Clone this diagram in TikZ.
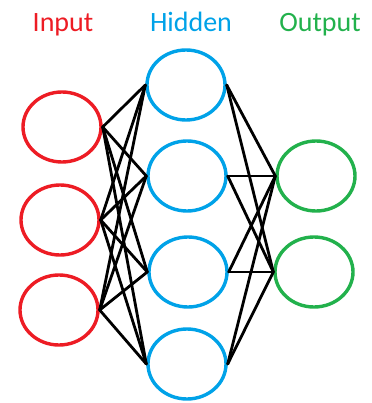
\documentclass[tikz,border=0pt]{standalone}
\usepackage{fontspec}
\setmainfont{Carlito}
\usetikzlibrary{shapes.geometric}
\definecolor{inred}{RGB}{237,28,36}
\definecolor{hidblue}{RGB}{0,162,232}
\definecolor{outgreen}{RGB}{34,177,76}
\begin{document}
\begin{tikzpicture}[x=1pt,y=-1pt,
  neuron/.style={ellipse,draw,line width=3.4pt,minimum width=78pt,minimum height=70pt,inner sep=0pt},
  title/.style={font=\fontsize{28}{30}\selectfont,anchor=base},
  link/.style={line width=2.8pt,black}]
\useasboundingbox (0,0) rectangle (371,403);
% layer titles
\node[title,text=inred] (tin) at (63,32) {Input};
\node[title,text=hidblue] (thid) at (191,32) {Hidden};
\node[title,text=outgreen] (tout) at (320,32) {Output};
% input layer
\node[neuron,draw=inred] (i1) at (62,127) {};
\node[neuron,draw=inred] (i2) at (60,220) {};
\node[neuron,draw=inred] (i3) at (59,310) {};
% hidden layer
\node[neuron,draw=hidblue] (h1) at (186,85) {};
\node[neuron,draw=hidblue] (h2) at (187,176) {};
\node[neuron,draw=hidblue] (h3) at (188,272) {};
\node[neuron,draw=hidblue] (h4) at (187,364) {};
% output layer
\node[neuron,draw=outgreen] (o1) at (316,176) {};
\node[neuron,draw=outgreen] (o2) at (314,272) {};
% connections
\foreach \a in {i1,i2,i3}
  \foreach \b in {h1,h2,h3,h4}
    \draw[link,line cap=round] (\a.east) -- (\b.west);
\foreach \a in {h1,h2,h3,h4}
  \foreach \b in {o1,o2}
    \draw[link,line cap=round] (\a.east) -- (\b.west);
\end{tikzpicture}
\end{document}
